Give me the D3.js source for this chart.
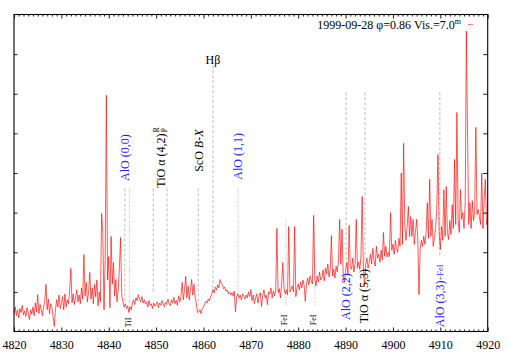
<!DOCTYPE html>
<html>
<head>
<meta charset="utf-8">
<script src="https://cdn.jsdelivr.net/npm/d3@7"></script>
<style>
  body { margin: 0; background: #fff; }
  text { font-family: "Liberation Serif", "DejaVu Serif", serif; }
</style>
</head>
<body>
<div id="vis"></div>
<script>
const WIDTH = 509;
const HEIGHT = 356;
const margins = [14, 21.3, 14.5, 24.5]; // left, right, top, bottom

// spectrum: one flux value every 0.25 A starting at 4820 A
const wlStart = 4820;
const wlStep = 0.25;
const flux = [
  0.45, 0.62, 0.40, 0.55,  0.35, 0.58, 0.48, 0.66,  0.42, 0.52, 0.38, 0.60,  // 4820-4822
  0.48, 0.30, 0.55, 0.44,  0.62, 0.40, 0.72, 0.50,  0.93, 0.45, 0.68, 0.55,  // 4823-4825
  0.40, 0.62, 0.75, 1.19,  0.55, 0.82, 0.45, 0.70,  0.60, 0.38, 0.13, 0.55,  // 4826-4828
  0.80, 0.62, 0.92, 0.58,  0.70, 0.88, 0.55, 0.95,  0.62, 0.80, 0.70, 1.05,  // 4829-4831
  1.59, 0.72, 0.95, 0.68,  0.85, 1.05, 0.75, 0.92,  0.70, 1.10, 0.82, 1.94,  // 4832-4834
  0.90, 1.24, 0.75, 1.00,  1.49, 0.82, 1.10, 0.70,  1.19, 0.88, 1.30, 0.65,  // 4835-4837
  1.00, 0.75, 2.98, 2.50,  0.55, 1.80, 5.96, 1.30,  1.89, 0.60, 2.40, 1.20,  // 4838-4840
  1.74, 0.90, 1.31, 0.75,  1.05, 1.60, 2.37, 0.90,  0.76, 0.62, 0.70, 0.58,  // 4841-4843
  0.65, 0.48, 0.62, 0.55,  0.72, 0.80, 0.68, 0.85,  0.78, 0.93, 0.82, 0.75,  // 4844-4846
  0.88, 0.72, 0.80, 0.70,  0.75, 0.62, 0.78, 0.66,  0.70, 0.58, 0.72, 0.64,  // 4847-4849
  0.68, 0.75, 0.60, 0.72,  0.66, 0.78, 0.70, 0.62,  0.74, 0.68, 0.82, 0.70,  // 4850-4852
  0.65, 0.80, 0.72, 0.86,  0.70, 0.78, 0.66, 0.90,  0.75, 0.88, 1.24, 0.80,  // 4853-4855
  1.05, 1.39, 0.85, 1.15,  0.80, 1.05, 1.31, 0.92,  1.19, 0.85, 0.70, 0.48,  // 4856-4858
  0.50, 0.55, 0.45, 0.58,  0.62, 0.70, 0.76, 0.72,  0.82, 0.78, 0.88, 0.95,  // 4859-4861
  1.06, 0.98, 1.12, 1.05,  1.18, 1.10, 1.31, 1.22,  1.19, 1.08, 1.12, 1.02,  // 4862-4864
  1.05, 0.95, 1.00, 0.92,  0.98, 0.90, 1.02, 0.50,  0.88, 0.95, 0.85, 0.92,  // 4865-4867
  0.80, 0.95, 0.88, 0.82,  0.92, 0.85, 1.00, 0.88,  1.06, 0.78, 0.92, 0.70,  // 4868-4870
  0.85, 0.95, 0.72, 0.90,  0.98, 0.63, 0.90, 1.05,  0.85, 0.92, 0.68, 1.00,  // 4871-4873
  0.95, 1.10, 0.85, 1.02,  0.90, 1.05, 2.60, 0.98,  1.08, 0.85, 1.20, 1.74,  // 4874-4876
  1.10, 0.95, 1.05, 0.92,  2.65, 1.00, 1.06, 1.15,  1.00, 2.65, 0.88, 1.10,  // 4877-4879
  1.20, 1.05, 1.25, 1.10,  1.30, 1.15, 0.76, 1.22,  1.35, 1.18, 1.40, 1.28,  // 4880-4882
  1.20, 2.93, 1.35, 1.15,  1.40, 1.25, 1.50, 1.30,  1.35, 1.55, 1.28, 1.60,  // 4883-4885
  1.45, 1.70, 1.38, 1.55,  2.42, 1.40, 1.57, 1.35,  1.65, 1.50, 1.80, 2.83,  // 4886-4888
  1.70, 2.58, 1.40, 1.24,  1.55, 1.74, 1.45, 2.68,  1.60, 1.57, 1.85, 1.50,  // 4889-4891
  1.70, 2.83, 1.60, 1.75,  1.57, 1.90, 3.41, 1.65,  1.14, 1.70, 1.85, 1.60,  // 4892-4894
  1.75, 1.95, 1.70, 2.10,  1.80, 1.65, 2.15, 1.85,  1.95, 1.75, 2.05, 1.80,  // 4895-4897
  2.50, 1.90, 2.15, 1.88,  2.00, 1.89, 3.00, 2.05,  2.20, 1.95, 2.30, 2.10,  // 4898-4900
  2.00, 2.35, 2.15, 4.00,  2.20, 4.75, 2.65, 2.30,  2.65, 3.16, 2.40, 2.90,  // 4901-4903
  2.40, 2.83, 2.20, 2.50,  2.83, 2.30, 0.93, 2.10,  2.30, 2.15, 2.40, 2.20,  // 4904-4906
  2.50, 3.25, 2.35, 3.84,  2.40, 2.83, 2.15, 2.37,  2.60, 3.10, 4.47, 2.50,  // 4907-4909
  2.07, 2.65, 2.30, 3.58,  2.40, 3.66, 2.50, 2.32,  2.80, 2.45, 3.20, 2.60,  // 4910-4912
  4.34, 2.70, 5.53, 2.83,  2.50, 3.58, 2.83, 3.00,  2.60, 3.25, 7.58, 4.92,  // 4913-4915
  2.70, 3.25, 2.60, 3.30,  2.80, 3.05, 5.15, 2.95,  3.08, 2.90, 2.70, 4.00,  // 4916-4918
  2.60, 3.33, 3.84, 2.70,  2.83                                               // 4919-4920
];

const xTicks = [4820, 4830, 4840, 4850, 4860, 4870, 4880, 4890, 4900, 4910, 4920];
const yTicks = [1, 2, 3, 4, 5, 6, 7];

// identified features: wavelength, vertical extent of the marker line (flux units)
const markWl     = [4843.4, 4844.4, 4849.4, 4852.3, 4858.9, 4862.0, 4867.3, 4877.4, 4883.5, 4890.1, 4894.1, 4909.9];
const markTop    = [3.61, 3.61, 3.61, 3.61, 3.61, 6.72, 3.61, 2.83, 2.83, 6.04, 6.04, 6.04];
const markBottom = [0.73, 0.50, 0.98, 0.98, 0.68, 0.88, 0.93, 0.63, 0.63, 1.82, 1.77, 1.90];
const markKind   = ["dash", "dot", "dash", "dash", "dash", "dash", "dot", "dot", "dot", "dash", "dash", "dash"];

// rotated labels: text, wavelength, flux where the text starts
const labelText = ["AlO (0,0)", "TiO α (4,2)", "ScO ", "AlO (1,1)", "AlO (2,2)", "TiO α (5,3)", "AlO (3,3)", "TiI", "FeI", "FeI"];
const labelWl   = [4843.4, 4850.95, 4859.0, 4867.3, 4890.0, 4893.9, 4910.0, 4844.2, 4877.0, 4883.2];
const labelAt   = [3.80, 3.63, 4.03, 3.83, 0.29, 0.21, 0.11, 0.11, 0.16, 0.16];
const labelBlue = [true, false, false, true, true, false, true, false, false, false];

const legendText = "1999-09-28 φ=0.86 Vis.=7.0";

const SVG = d3.select("#vis").append("svg").attr("width", WIDTH).attr("height", HEIGHT);

let x = d3.scaleLinear().domain([4820, 4920]).range([margins[0], WIDTH - margins[1]]);
let y = d3.scaleLinear().domain([0, 8]).range([HEIGHT - margins[3], margins[2]]);

SVG.append("rect").attr("width", WIDTH).attr("height", HEIGHT).attr("fill", "white");

SVG.append("clipPath").attr("id", "clip")
  .append("rect")
  .attr("x", margins[0]).attr("y", margins[2])
  .attr("width", WIDTH - margins[0] - margins[1])
  .attr("height", HEIGHT - margins[2] - margins[3]);

// marker lines
SVG.append("g").selectAll("line")
  .data(markWl)
  .join("line")
  .attr("x1", d => x(d)).attr("x2", d => x(d))
  .attr("y1", (d, i) => y(markTop[i]))
  .attr("y2", (d, i) => y(markBottom[i]))
  .attr("stroke", "#b4b4b4")
  .attr("stroke-width", 0.9)
  .attr("stroke-dasharray", (d, i) => markKind[i] == "dash" ? "3,2" : "1,1.5");

// spectrum
let spec = flux.map((f, i) => ({wl: wlStart + i * wlStep, f: f}));
let line = d3.line().x(d => x(d.wl)).y(d => y(d.f));
SVG.append("path")
  .datum(spec)
  .attr("clip-path", "url(#clip)")
  .attr("d", line)
  .attr("fill", "none")
  .attr("stroke", "#ff0000")
  .attr("stroke-width", 0.65)
  .attr("stroke-linejoin", "miter");

// axes
let ejeBottom = d3.axisBottom(x).tickValues(xTicks).tickSize(-4).tickPadding(9).tickFormat(d3.format("d"));
let ejeTop = d3.axisTop(x).tickValues(xTicks).tickSize(-4).tickFormat("");
let minor = d3.range(4820, 4921, 1).filter(v => v % 10 != 0);

SVG.append("g").attr("id", "ejeX")
  .attr("transform", `translate(0,${y(0)})`)
  .call(ejeBottom);
SVG.append("g").attr("transform", `translate(0,${y(8)})`).call(ejeTop);
SVG.append("g").attr("transform", `translate(0,${y(0)})`)
  .call(d3.axisBottom(x).tickValues(minor).tickSize(-2).tickFormat(""));
SVG.append("g").attr("transform", `translate(0,${y(8)})`)
  .call(d3.axisTop(x).tickValues(minor).tickSize(-2).tickFormat(""));

SVG.append("g").attr("transform", `translate(${x(4820)},0)`)
  .call(d3.axisLeft(y).tickValues(yTicks).tickSize(-3.5).tickFormat(""));
SVG.append("g").attr("transform", `translate(${x(4920)},0)`)
  .call(d3.axisRight(y).tickValues(yTicks).tickSize(-4.5).tickFormat(""));

SVG.selectAll(".domain").remove();
SVG.selectAll(".tick line").attr("stroke", "black").attr("stroke-width", 0.9);
SVG.select("#ejeX").selectAll("text")
  .attr("font-size", 12)
  .attr("font-family", "Liberation Serif")
  .attr("fill", "black");

SVG.append("rect")
  .attr("x", x(4820)).attr("y", y(8))
  .attr("width", x(4920) - x(4820)).attr("height", y(0) - y(8))
  .attr("fill", "none").attr("stroke", "black").attr("stroke-width", 1.1);

// rotated labels
labelText.forEach((t, i) => {
  let small = t == "TiI" || t == "FeI";
  let px = x(labelWl[i]), py = y(labelAt[i]);
  let txt = SVG.append("text")
    .attr("transform", `translate(${px},${py}) rotate(-90)`)
    .attr("dominant-baseline", "central")
    .attr("font-size", small ? 8 : 12)
    .attr("fill", labelBlue[i] ? "#1f1fff" : "black")
    .text(t);
  if (t == "ScO ") {
    txt.append("tspan").attr("font-style", "italic").text("B-X");
  }
  if (t == "AlO (3,3)") {
    txt.append("tspan").attr("font-size", 8.5).text("+FeI");
  }
  if (t == "TiO α (4,2)") {
    let len = txt.node().getComputedTextLength();
    SVG.append("text")
      .attr("transform", `translate(${px - 4},${py - len - 1}) rotate(-90)`)
      .attr("dominant-baseline", "central")
      .attr("font-size", 8).text("R");
    SVG.append("text")
      .attr("transform", `translate(${px + 4},${py - len - 1}) rotate(-90)`)
      .attr("dominant-baseline", "central")
      .attr("font-size", 8).text("P");
  }
});

// H beta
SVG.append("text")
  .attr("x", x(4862.0)).attr("y", y(6.72) - 1)
  .attr("text-anchor", "middle")
  .attr("font-size", 12)
  .text("Hβ");

// legend
let leg = SVG.append("text")
  .attr("x", 461).attr("y", 29)
  .attr("text-anchor", "end")
  .attr("font-size", 12)
  .text(legendText);
leg.append("tspan").attr("dy", -5).attr("font-size", 8).text("m");

SVG.append("line")
  .attr("x1", 468).attr("x2", 473)
  .attr("y1", 24.5).attr("y2", 24.5)
  .attr("stroke", "#ff8080").attr("stroke-width", 1);
</script>
</body>
</html>
